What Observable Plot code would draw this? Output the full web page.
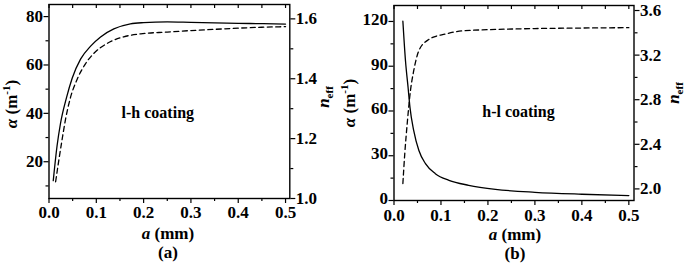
<!DOCTYPE html>
<html>
<head>
<meta charset="utf-8">
<script src="https://cdn.jsdelivr.net/npm/d3@7"></script>
<script src="https://cdn.jsdelivr.net/npm/@observablehq/plot@0.6"></script>
<style>
  html, body { margin: 0; padding: 0; background: white; }
  #root { position: relative; width: 685px; height: 264px; overflow: hidden; }
  .layer { position: absolute; top: 0; }
  .layer svg { position: absolute; top: 0; left: 0; overflow: visible; }
</style>
</head>
<body>
<div id="root"></div>
<script>
// ---------- data ----------
// Panel (a): l-h coating
const aAlphaX = [0.009, 0.017, 0.024, 0.037, 0.049, 0.067, 0.088, 0.109, 0.137, 0.172, 0.2, 0.25, 0.3, 0.35, 0.4, 0.45, 0.5];
const aAlpha  = [12.2, 26.5, 35.5, 46.5, 54.5, 62.5, 67.8, 71.6, 74.9, 77.0, 77.5, 77.8, 77.6, 77.4, 77.2, 77.1, 76.9];
const aNeffX  = [0.014, 0.021, 0.028, 0.035, 0.045, 0.060, 0.077, 0.095, 0.123, 0.158, 0.194, 0.25, 0.3, 0.35, 0.4, 0.45, 0.5];
const aNeff   = [1.056, 1.130, 1.200, 1.265, 1.335, 1.400, 1.450, 1.485, 1.518, 1.540, 1.550, 1.556, 1.561, 1.565, 1.569, 1.572, 1.574];
// Panel (b): h-l coating
const bAlphaX = [0.0189, 0.0245, 0.030, 0.034, 0.042, 0.053, 0.067, 0.088, 0.117, 0.159, 0.216, 0.3, 0.4, 0.5];
const bAlpha  = [120.2, 93.5, 75.7, 62.4, 46.9, 33.5, 24.7, 18.0, 13.5, 10.2, 7.5, 5.5, 4.2, 3.3];
const bNeffX  = [0.0189, 0.023, 0.028, 0.035, 0.042, 0.053, 0.074, 0.110, 0.145, 0.216, 0.3, 0.4, 0.5];
const bNeff   = [2.048, 2.32, 2.58, 2.88, 3.06, 3.24, 3.34, 3.39, 3.417, 3.43, 3.438, 3.443, 3.446];

// ticks
const xMajor = [0, 0.1, 0.2, 0.3, 0.4, 0.5];
const xMinor = [0.05, 0.15, 0.25, 0.35, 0.45];
const aAlphaMajor = [20, 40, 60, 80];
const aAlphaMinor = [10, 30, 50, 70];
const aNeffMajor = [1.0, 1.2, 1.4, 1.6];
const aNeffMinor = [1.1, 1.3, 1.5];
const bAlphaMajor = [0, 30, 60, 90, 120];
const bAlphaMinor = [15, 45, 75, 105];
const bNeffMajor = [2.0, 2.4, 2.8, 3.2, 3.6];
const bNeffMinor = [2.2, 2.6, 3.0, 3.4];

// annotations
const annotations = [
  {panel: "a", text: "l-h coating", x: 0.23, y: 40.3},
  {panel: "b", text: "h-l coating", x: 0.265, y: 59.5}
];

const zip = (xs, ys) => xs.map((x, i) => ({x, y: ys[i]}));

const FONT = "'Liberation Serif', 'Times New Roman', serif";
const style = {fontFamily: FONT, fontSize: "17px", fontWeight: "bold", color: "black", background: "transparent"};

function fixFonts(svgEl) {
  d3.select(svgEl).selectAll("text").each(function() {
    const s = this.style;
    s.fontFamily = FONT;
    s.fontWeight = "bold";
  });
}

function panel(cfg) {
  const root = document.getElementById("root");
  const layer = document.createElement("div");
  layer.className = "layer";
  layer.style.left = cfg.left + "px";
  layer.style.width = cfg.w + "px";
  layer.style.height = "264px";
  root.appendChild(layer);
  const innerH = 264 - cfg.mt - cfg.mb;
  const common = {
    width: cfg.w, height: 264,
    marginLeft: cfg.ml, marginRight: cfg.mr, marginTop: cfg.mt, marginBottom: cfg.mb,
    x: {domain: cfg.xDomain}, style
  };
  const blank = () => "";
  const ann = annotations.filter(d => d.panel === cfg.id);
  const p1 = Plot.plot({
    ...common,
    y: {domain: cfg.alphaDomain},
    marks: [
      Plot.text(ann, {x: "x", y: "y", text: "text", fill: "black", fontSize: 16}),
      Plot.axisX({ticks: xMajor, tickFormat: d3.format(".1f"), tickSize: 5, tickPadding: cfg.xPad, label: null, strokeWidth: 1.2, fontSize: 17}),
      Plot.axisX({ticks: xMinor, tickFormat: blank, tickSize: 3, label: null, strokeWidth: 1.2}),
      Plot.tickX([...xMajor, ...xMinor], {x: d => d, stroke: "black", strokeWidth: 1.2, insetBottom: innerH - 4}),
      Plot.axisY({ticks: cfg.alphaMajor, tickSize: 5, tickFormat: blank, label: null, strokeWidth: 1.2}),
      Plot.axisY({ticks: cfg.alphaMajor, tickSize: 0, tickPadding: 6, dy: cfg.yDy, label: null, fontSize: 17}),
      Plot.axisY({ticks: cfg.alphaMinor, tickFormat: blank, tickSize: 3, label: null, strokeWidth: 1.2}),
      Plot.line(zip(cfg.alphaX, cfg.alpha), {x: "x", y: "y", stroke: "black", strokeWidth: 1.3, curve: "monotone-x"}),
      Plot.frame({stroke: "black", strokeWidth: 1.4})
    ]
  });
  const p2 = Plot.plot({
    ...common,
    y: {domain: cfg.neffDomain},
    marks: [
      Plot.axisX({ticks: [], label: null}),
      Plot.axisY({anchor: "right", ticks: cfg.neffMajor, tickFormat: d3.format(".1f"), tickSize: 5, tickPadding: 1, label: null, strokeWidth: 1.2, fontSize: 17}),
      Plot.axisY({anchor: "right", ticks: cfg.neffMinor, tickFormat: blank, tickSize: 3, label: null, strokeWidth: 1.2}),
      Plot.line(zip(cfg.neffX, cfg.neff), {x: "x", y: "y", stroke: "black", strokeWidth: 1.3, strokeDasharray: "5,3.5", curve: "monotone-x"})
    ]
  });
  layer.appendChild(p1);
  layer.appendChild(p2);

  const svg = d3.select(p1);
  const t = (x, y, rot) => svg.append("text")
    .attr("transform", `translate(${x},${y})` + (rot ? ` rotate(${rot})` : ""))
    .attr("text-anchor", "middle").attr("dominant-baseline", "middle")
    .style("font-size", "17px").attr("fill", "black");

  // left axis label: α (m^-1)
  const la = t(cfg.alphaLabel[0], cfg.alphaLabel[1], -90);
  la.append("tspan").style("font-style", "italic").text("α");
  la.append("tspan").text(" (m");
  la.append("tspan").attr("dy", -6).style("font-size", "11px").text("-1");
  la.append("tspan").attr("dy", 6).text(")");

  // right axis label: n_eff
  const ln = t(cfg.neffLabel[0], cfg.neffLabel[1], -90);
  ln.append("tspan").style("font-style", "italic").text("n");
  ln.append("tspan").attr("dy", 5).style("font-size", "11px").text("eff");

  // x label
  const lx = t(cfg.xLabel[0], cfg.xLabel[1], 0);
  lx.append("tspan").style("font-style", "italic").text("a");
  lx.append("tspan").text(" (mm)");

  // panel tag
  t(cfg.xLabel[0], cfg.xLabel[1] + 19, 0).text(cfg.tag);

  fixFonts(p1);
  fixFonts(p2);
}

panel({
  id: "a", tag: "(a)", left: 0, w: 345,
  ml: 48.5, mr: 55.7, mt: 4, mb: 66, xPad: 2, yDy: 0,
  xDomain: [0, 0.509],
  alphaDomain: [4.8, 85], neffDomain: [1.0, 1.648],
  alphaMajor: aAlphaMajor, alphaMinor: aAlphaMinor,
  neffMajor: aNeffMajor, neffMinor: aNeffMinor,
  alphaX: aAlphaX, alpha: aAlpha, neffX: aNeffX, neff: aNeff,
  alphaLabel: [13, 104], neffLabel: [325, 97], xLabel: [168, 235]
});

panel({
  id: "b", tag: "(b)", left: 335, w: 350,
  ml: 58.5, mr: 51.5, mt: 5, mb: 64, xPad: 3, yDy: -2,
  xDomain: [0, 0.511],
  alphaDomain: [0, 130.7], neffDomain: [1.896, 3.645],
  alphaMajor: bAlphaMajor, alphaMinor: bAlphaMinor,
  neffMajor: bNeffMajor, neffMinor: bNeffMinor,
  alphaX: bAlphaX, alpha: bAlpha, neffX: bNeffX, neff: bNeff,
  alphaLabel: [16, 103], neffLabel: [340, 93], xLabel: [180, 236]
});
</script>
</body>
</html>
